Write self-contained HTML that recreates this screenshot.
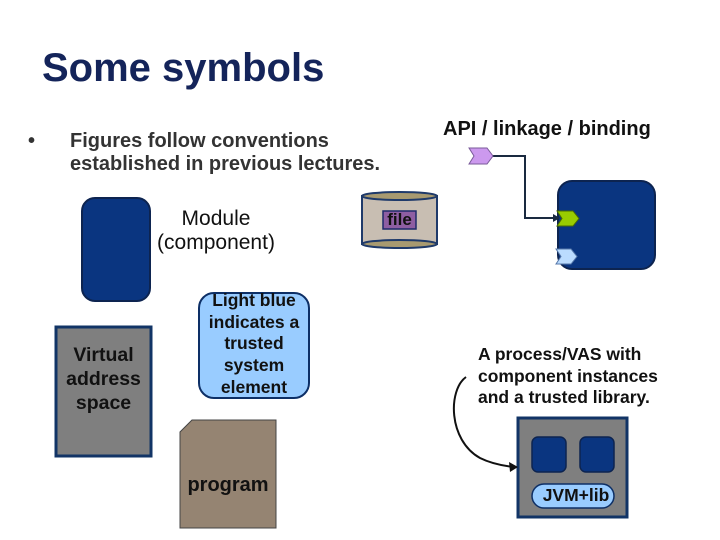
<!DOCTYPE html>
<html><head><style>
body{margin:0;width:720px;height:540px;background:#fff;position:relative;overflow:hidden;font-family:"Liberation Sans",Arial,sans-serif}
.a{position:absolute}
</style></head><body>
<div class="a" style="left:42px;top:46px;font-size:40px;font-weight:bold;color:#14245a">Some symbols</div>
<div class="a" style="left:28px;top:130px;font-size:20px;font-weight:bold;color:#333">•</div>
<div class="a" style="left:70px;top:130px;font-size:20px;font-weight:bold;color:#333;line-height:23px">Figures follow conventions<br>established in previous lectures.</div>
<div class="a" style="left:443px;top:118px;font-size:20px;font-weight:bold;color:#111">API / linkage / binding</div>
<div class="a" style="left:136px;top:207px;width:160px;text-align:center;font-size:21px;color:#111;line-height:24px">Module<br>(component)</div>
<svg class="a" style="left:0;top:0" width="720" height="540">
<rect x="82" y="198" width="68" height="103" rx="13" fill="#0a3580" stroke="#0d2450" stroke-width="2"/>
<rect x="56" y="327" width="95" height="129" fill="#7f7f7f" stroke="#123466" stroke-width="3"/>
<rect x="199" y="293" width="110" height="105" rx="15" fill="#99ccff" stroke="#0d2f66" stroke-width="2"/>
<polygon points="192,420 276,420 276,528 180,528 180,432" fill="#958472" stroke="#444" stroke-width="1"/>
<rect x="362" y="196" width="75" height="48" fill="#c8beb2" stroke="#1f3a6a" stroke-width="2"/>
<ellipse cx="399.5" cy="196" rx="37.5" ry="4" fill="#a89a70" stroke="#1f3a6a" stroke-width="2"/>
<ellipse cx="399.5" cy="244" rx="37.5" ry="4" fill="#a89a70" stroke="#1f3a6a" stroke-width="2"/>
<rect x="383" y="211" width="33" height="18" fill="#8e5ea2" stroke="#1f2a6a" stroke-width="1.5"/>
<rect x="558" y="181" width="97" height="88" rx="14" fill="#0a3580" stroke="#0d2450" stroke-width="2"/>
<polyline points="492,156 525,156 525,218 553,218" fill="none" stroke="#1a2a40" stroke-width="2"/>
<polygon points="553,214 560,218 553,222" fill="#1a2a40"/>
<polygon points="469,148 487,148 493,156 487,164 469,164 474,156" fill="#cc99ee" stroke="#7a5a9a" stroke-width="1"/>
<polygon points="557,211 573,211 579,218.5 573,226 557,226 562,218.5" fill="#99cc00" stroke="#4a6a00" stroke-width="1"/>
<polygon points="556,249 571,249 577,256.5 571,264 556,264 561,256.5" fill="#bbdcff" stroke="#5577aa" stroke-width="1"/>
<rect x="518" y="418" width="109" height="99" fill="#7f7f7f" stroke="#123466" stroke-width="3"/>
<rect x="532" y="437" width="34" height="35" rx="6" fill="#0a3580" stroke="#0d2450" stroke-width="1.5"/>
<rect x="580" y="437" width="34" height="35" rx="6" fill="#0a3580" stroke="#0d2450" stroke-width="1.5"/>
<rect x="532" y="484" width="82" height="24" rx="12" fill="#99ccff" stroke="#0d2f66" stroke-width="1.5"/>
<path d="M466,377 C448,390 448,440 480,458 C492,464 505,466 514,467" fill="none" stroke="#111" stroke-width="2"/>
<polygon points="518,467 509,462 510,472" fill="#111"/>
</svg>
<div class="a" style="left:383px;top:210px;width:33px;text-align:center;font-size:17px;font-weight:bold;color:#111;line-height:20px">file</div>
<div class="a" style="left:50px;top:343px;width:107px;text-align:center;font-size:19.5px;font-weight:bold;color:#111;line-height:24px">Virtual<br>address<br>space</div>
<div class="a" style="left:194px;top:290px;width:120px;text-align:center;font-size:17.5px;font-weight:bold;color:#111;line-height:21.7px">Light blue<br>indicates a<br>trusted<br>system<br>element</div>
<div class="a" style="left:176px;top:474px;width:104px;text-align:center;font-size:20px;font-weight:bold;color:#111">program</div>
<div class="a" style="left:478px;top:344px;font-size:17.5px;font-weight:bold;color:#111;line-height:21.5px">A process/VAS with<br>component instances<br>and a trusted library.</div>
<div class="a" style="left:528px;top:485px;width:96px;text-align:center;font-size:17.5px;font-weight:bold;color:#111">JVM+lib</div>
</body></html>
